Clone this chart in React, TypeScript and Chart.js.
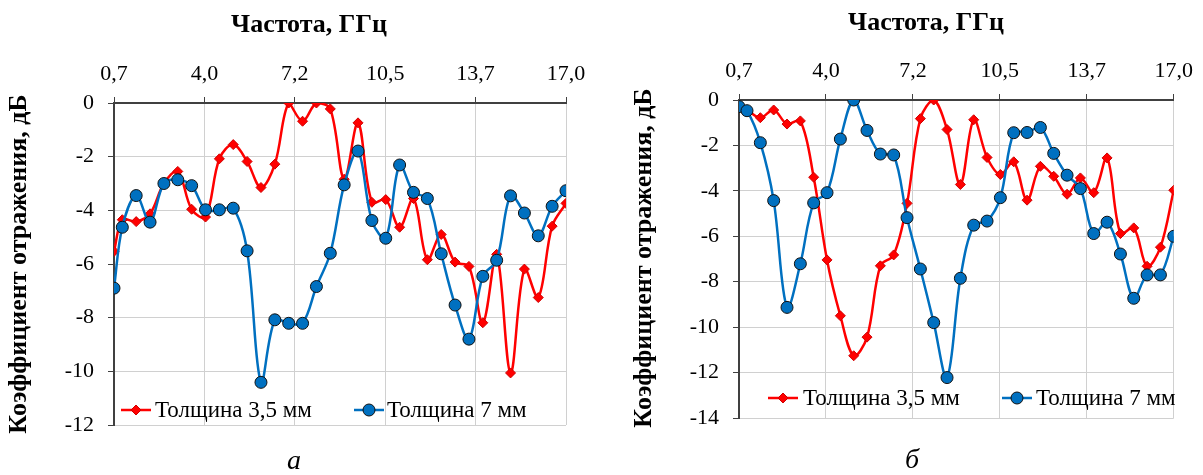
import React, { useEffect, useRef } from 'react';
import { Chart, registerables } from 'chart.js';

Chart.register(...registerables);

// ---------- data ----------
const frequencyGHz = [
  0.7, 1.0, 1.5, 2.0, 2.5, 3.0, 3.5, 4.0, 4.5, 5.0, 5.5, 6.0, 6.5, 7.0, 7.5, 8.0, 8.5,
  9.0, 9.5, 10.0, 10.5, 11.0, 11.5, 12.0, 12.5, 13.0, 13.5, 14.0, 14.5, 15.0, 15.5, 16.0, 16.5, 17.0,
];
const xTickValues = [0.7, 3.96, 7.22, 10.48, 13.74, 17.0];

// Panel "а"
const panelA_thick35 = [
  -5.53, -4.35, -4.42, -4.13, -3.0, -2.55, -3.96, -4.25, -2.08, -1.55, -2.18, -3.15, -2.28, 0, -0.68, 0, -0.22,
  -2.84, -0.74, -3.7, -3.6, -4.63, -3.56, -5.84, -4.9, -5.93, -6.09, -8.19, -5.64, -10.06, -6.19, -7.25, -4.59, -3.74,
];
const panelA_thick7 = [
  -6.9, -4.63, -3.45, -4.44, -3.0, -2.86, -3.08, -3.98, -3.98, -3.92, -5.51, -10.41, -8.08, -8.21, -8.21, -6.84, -5.6,
  -3.05, -1.79, -4.38, -5.04, -2.31, -3.33, -3.56, -5.62, -7.53, -8.8, -6.46, -5.86, -3.46, -4.1, -4.95, -3.85, -3.27,
];

// Panel "б"
const panelB_thick35 = [
  -0.3, -0.45, -0.78, -0.44, -1.06, -0.92, -3.4, -7.04, -9.5, -11.26, -10.44, -7.3, -6.82, -4.55, -0.82, 0, -1.3,
  -3.72, -0.87, -2.53, -3.28, -2.72, -4.41, -2.92, -3.36, -4.15, -3.43, -4.08, -2.55, -5.88, -5.63, -7.32, -6.48, -3.97,
];
const panelB_thick7 = [
  -0.29, -0.47, -1.88, -4.43, -9.13, -7.21, -4.53, -4.08, -1.72, 0, -1.34, -2.38, -2.42, -5.18, -7.44, -9.8, -12.22,
  -7.85, -5.51, -5.33, -4.3, -1.44, -1.43, -1.21, -2.35, -3.31, -3.9, -5.88, -5.38, -6.78, -8.73, -7.7, -7.7, -6.0,
];

const seriesLabels = ['Толщина 3,5 мм', 'Толщина 7 мм'];
const xAxisTitle = 'Частота, ГГц';
const yAxisTitle = 'Коэффициент отражения, дБ';
const panelLetters = ['а', 'б'];

// ---------- style ----------
const SERIF = "'Liberation Serif', 'Times New Roman', serif";
const RED = '#ff0000';
const BLUE = '#0070c0';

type PanelCfg = {
  red: number[];
  blue: number[];
  yMin: number;
  width: number;
  area: { left: number; right: number; top: number; bottom: number };
  xTitle: [number, number];
  yTitle: [number, number];
  letter: string;
  letterPos: [number, number];
  legendY: number;
  legendItems: { lineX: number; textX: number }[];
};

const decorPlugin = {
  id: 'decor',
  afterDraw(chart: any, _args: any, o: any) {
    const ctx: CanvasRenderingContext2D = chart.ctx;
    ctx.save();
    ctx.fillStyle = '#000';
    ctx.textBaseline = 'middle';
    // x-axis title
    ctx.font = `bold 26px ${SERIF}`;
    ctx.textAlign = 'center';
    ctx.fillText(xAxisTitle, o.xTitle[0], o.xTitle[1]);
    // y-axis title
    ctx.save();
    ctx.translate(o.yTitle[0], o.yTitle[1]);
    ctx.rotate(-Math.PI / 2);
    ctx.fillText(yAxisTitle, 0, 0);
    ctx.restore();
    // panel letter
    ctx.font = `italic 28px ${SERIF}`;
    ctx.fillText(o.letter, o.letterPos[0], o.letterPos[1]);
    // legend
    ctx.font = `23px ${SERIF}`;
    ctx.textAlign = 'left';
    chart.data.datasets.forEach((ds: any, i: number) => {
      const it = o.legendItems[i];
      const y = o.legendY;
      ctx.strokeStyle = ds.borderColor;
      ctx.lineWidth = ds.borderWidth;
      ctx.beginPath();
      ctx.moveTo(it.lineX, y);
      ctx.lineTo(it.lineX + 30, y);
      ctx.stroke();
      const cx = it.lineX + 15;
      ctx.fillStyle = ds.pointBackgroundColor;
      ctx.strokeStyle = ds.pointBorderColor;
      ctx.lineWidth = ds.pointBorderWidth;
      ctx.beginPath();
      if (ds.pointStyle === 'rectRot') {
        const r = ds.pointRadius;
        ctx.moveTo(cx, y - r);
        ctx.lineTo(cx + r, y);
        ctx.lineTo(cx, y + r);
        ctx.lineTo(cx - r, y);
        ctx.closePath();
      } else {
        ctx.arc(cx, y, ds.pointRadius, 0, Math.PI * 2);
      }
      ctx.fill();
      ctx.stroke();
      ctx.fillStyle = '#000';
      ctx.fillText(ds.label, it.textX, y + 1);
    });
    ctx.restore();
  },
};

function buildConfig(p: PanelCfg): any {
  const tickFont = { family: SERIF, size: 22 };
  return {
    type: 'line',
    data: {
      datasets: [
        {
          label: seriesLabels[0],
          data: frequencyGHz.map((x, i) => ({ x, y: p.red[i] })),
          borderColor: RED,
          backgroundColor: RED,
          borderWidth: 2.5,
          tension: 0.35,
          pointStyle: 'rectRot',
          pointRadius: 5,
          pointBackgroundColor: RED,
          pointBorderColor: '#d00000',
          pointBorderWidth: 1,
          order: 2,
        },
        {
          label: seriesLabels[1],
          data: frequencyGHz.map((x, i) => ({ x, y: p.blue[i] })),
          borderColor: BLUE,
          backgroundColor: BLUE,
          borderWidth: 2.5,
          tension: 0.35,
          pointStyle: 'circle',
          pointRadius: 6,
          pointBackgroundColor: BLUE,
          pointBorderColor: '#111111',
          pointBorderWidth: 1,
          order: 1,
        },
      ],
    },
    options: {
      animation: false,
      responsive: false,
      devicePixelRatio: 1,
      events: [],
      layout: {
        padding: { left: 0, top: 0, right: p.width - p.area.right, bottom: 475 - p.area.bottom },
      },
      plugins: {
        legend: { display: false },
        tooltip: { enabled: false },
        decor: {
          xTitle: p.xTitle,
          yTitle: p.yTitle,
          letter: p.letter,
          letterPos: p.letterPos,
          legendY: p.legendY,
          legendItems: p.legendItems,
        },
      },
      scales: {
        x: {
          type: 'linear',
          position: 'top',
          min: 0.7,
          max: 17,
          afterBuildTicks: (s: any) => {
            s.ticks = xTickValues.map((v) => ({ value: v }));
          },
          afterFit: (s: any) => {
            s.height = p.area.top;
          },
          ticks: {
            font: tickFont,
            color: '#000',
            padding: 10,
            maxRotation: 0,
            autoSkip: false,
            callback: (v: any) => Number(v).toFixed(1).replace('.', ','),
          },
          grid: { color: '#d0d0d0', lineWidth: 1, tickColor: '#404040', tickLength: 6 },
          border: { color: '#404040', width: 2 },
        },
        y: {
          type: 'linear',
          position: 'left',
          min: p.yMin,
          max: 0,
          afterFit: (s: any) => {
            s.width = p.area.left;
          },
          ticks: { stepSize: 2, font: tickFont, color: '#000', padding: 14 },
          grid: { color: '#d0d0d0', lineWidth: 1, tickColor: '#404040', tickLength: 6 },
          border: { color: '#404040', width: 2 },
        },
      },
    },
    plugins: [decorPlugin],
  };
}

const panels: PanelCfg[] = [
  {
    red: panelA_thick35,
    blue: panelA_thick7,
    yMin: -12,
    width: 600,
    area: { left: 114, right: 566, top: 103, bottom: 425 },
    xTitle: [309, 25],
    yTitle: [19, 264],
    letter: panelLetters[0],
    letterPos: [294, 462],
    legendY: 410,
    legendItems: [
      { lineX: 121, textX: 155 },
      { lineX: 354, textX: 387 },
    ],
  },
  {
    red: panelB_thick35,
    blue: panelB_thick7,
    yMin: -14,
    width: 603,
    area: { left: 139, right: 581, top: 100, bottom: 418 },
    xTitle: [326, 23],
    yTitle: [44, 258],
    letter: panelLetters[1],
    letterPos: [312, 461],
    legendY: 398,
    legendItems: [
      { lineX: 168, textX: 203 },
      { lineX: 402, textX: 436 },
    ],
  },
];

function Panel({ cfg, left }: { cfg: PanelCfg; left: number }) {
  const ref = useRef<HTMLCanvasElement>(null);
  useEffect(() => {
    const chart = new Chart(ref.current as HTMLCanvasElement, buildConfig(cfg));
    return () => chart.destroy();
  }, [cfg]);
  return (
    <canvas
      ref={ref}
      width={cfg.width}
      height={475}
      style={{ position: 'absolute', left, top: 0, width: cfg.width, height: 475 }}
    />
  );
}

export default function App() {
  return (
    <div style={{ position: 'absolute', left: 0, top: 0, width: 1203, height: 475, background: '#fff', overflow: 'hidden' }}>
      <Panel cfg={panels[0]} left={0} />
      <Panel cfg={panels[1]} left={600} />
    </div>
  );
}
